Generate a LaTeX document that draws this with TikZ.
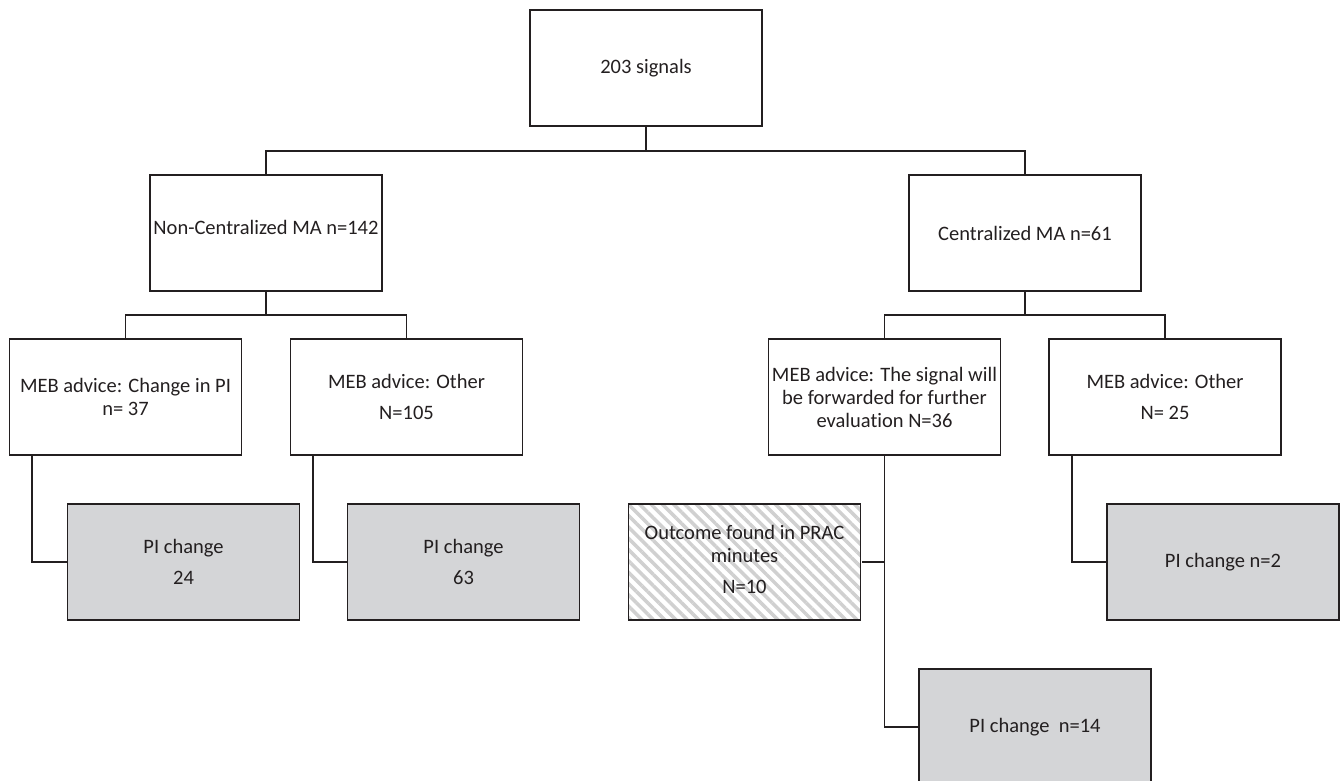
\documentclass[tikz,border=0pt]{standalone}
\usepackage{fontspec}
\setmainfont{Carlito}[Ligatures=NoCommon]
\usetikzlibrary{patterns.meta}
\definecolor{linegray}{RGB}{35,31,32}
\definecolor{boxgray}{RGB}{212,213,215}
\definecolor{hatchgray}{RGB}{208,208,208}

\begin{document}
\begin{tikzpicture}[x=1pt, y=-1pt, line width=1.9pt, color=linegray,
    box/.style={draw=linegray, minimum width=232pt, minimum height=116pt,
        inner sep=2pt, align=center, font=\fontsize{20.5pt}{23pt}\selectfont},
    outcome/.style={box, fill=boxgray},
    minutes/.style={box, pattern={Lines[angle=-45, distance=8pt, line width=3.5pt]},
        pattern color=hatchgray}]
    \useasboundingbox (0,0) rectangle (1343,781);

    \node[box] (top) at (646,68) {203 signals};
    \node[box] (noncent) at (266,233) {\raisebox{11pt}{Non-Centralized MA n=142}};
    \node[box] (cent) at (1025,233) {Centralized MA n=61};

    \node[box] (meb1) at (125.5,397) {MEB advice: Change in PI\\n= 37};
    \node[box] (meb2) at (406.5,397) {MEB advice: Other\\[8pt]N=105};
    \node[box] (meb3) at (884.5,397) {MEB advice: The signal will\\be forwarded for further\\evaluation N=36};
    \node[box] (meb4) at (1165,397) {MEB advice: Other\\[8pt]N= 25};

    \node[outcome] (change1) at (183.5,562) {PI change\\[8pt]24};
    \node[outcome] (change2) at (463.5,562) {PI change\\[8pt]63};
    \node[minutes] (prac) at (744.5,562) {\raisebox{16pt}{\begin{tabular}{@{}c@{}}Outcome found in PRAC\\minutes\\[8pt]N=10\end{tabular}}};
    \node[outcome] (change3) at (1035,727) {PI change\ \ n=14};
    \node[outcome] (change4) at (1223,562) {PI change n=2};

    \coordinate (split) at (646,151);
    \draw (noncent.north) |- (split) -| (cent.north);
    \draw (top.south) -- (split);

    \coordinate (splitl) at (266,315);
    \draw (meb1.north) |- (splitl) -| (meb2.north);
    \draw (noncent.south) -- (splitl);

    \coordinate (splitr) at (1025,315);
    \draw (meb3.north) |- (splitr) -| (meb4.north);
    \draw (cent.south) -- (splitr);

    \foreach \advice/\change in {meb1/change1, meb2/change2, meb4/change4}
        \draw ([xshift=23.5pt]\advice.south west) |- (\change.west);
    \draw (meb3.south) |- (change3.west);
    \draw (meb3.south |- prac.east) -- (prac.east);
\end{tikzpicture}
\end{document}
